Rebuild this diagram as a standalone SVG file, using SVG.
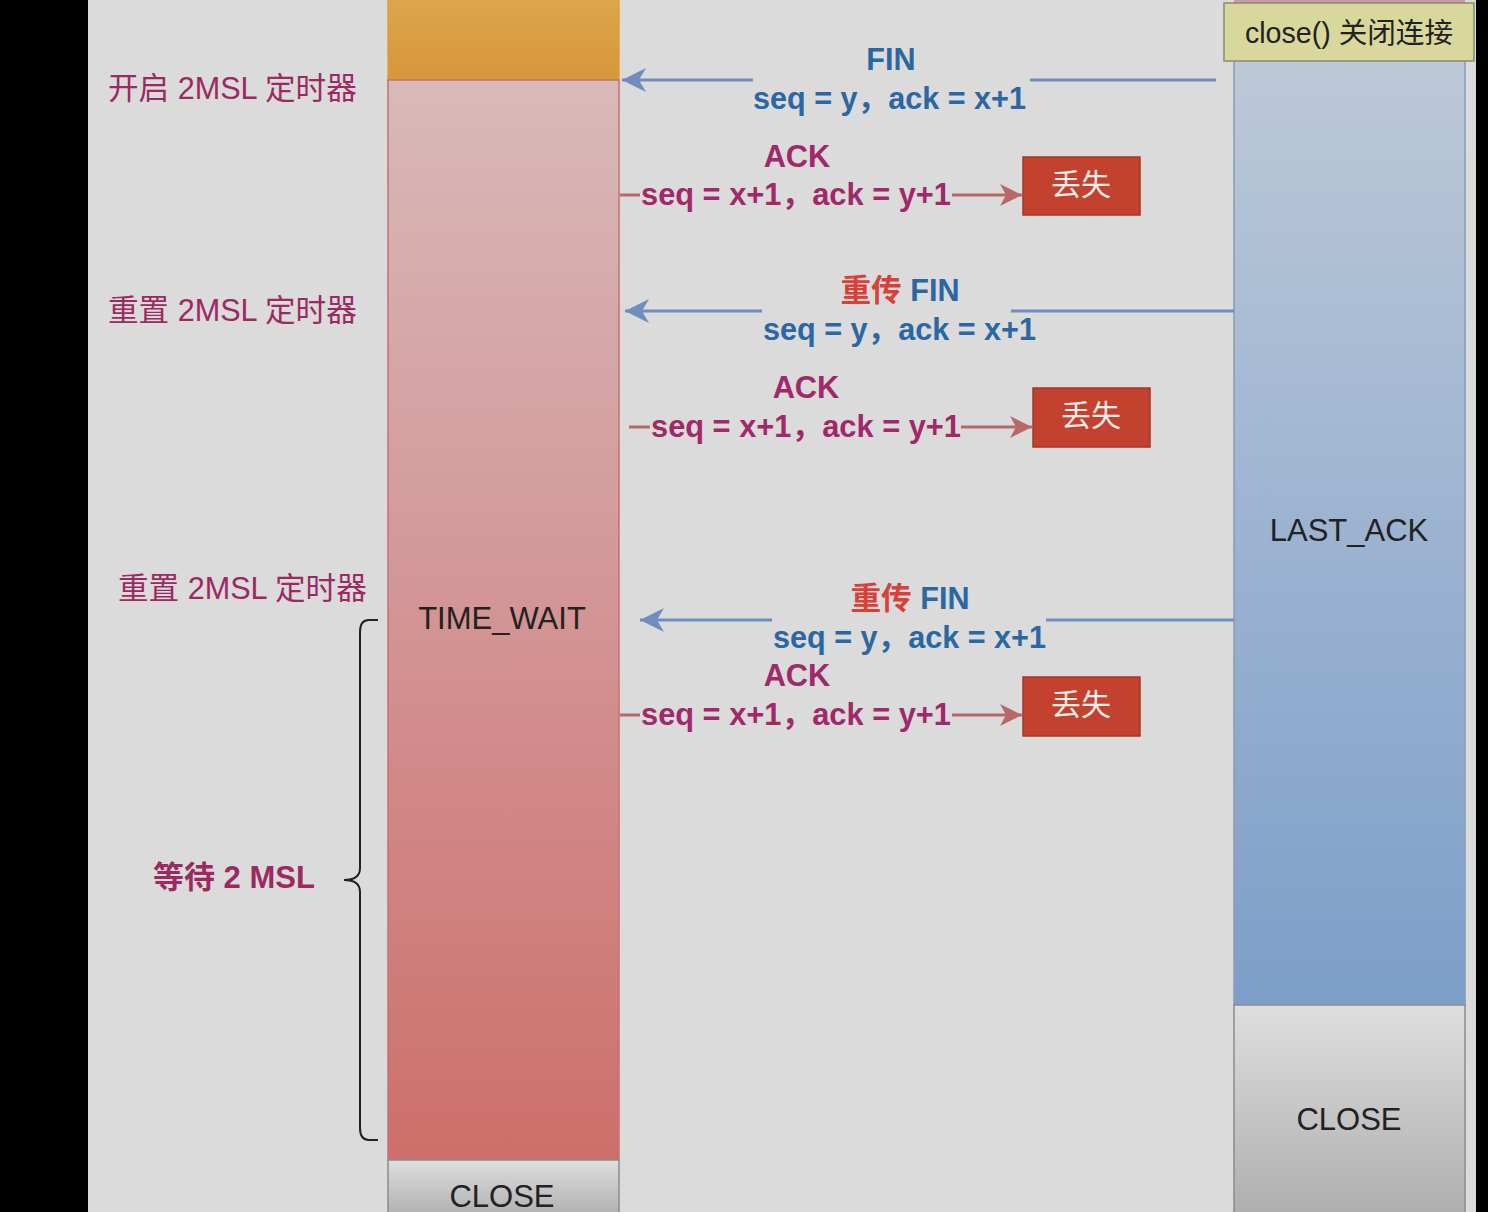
<svg xmlns="http://www.w3.org/2000/svg" width="1488" height="1212" viewBox="0 0 1488 1212">
<defs>
<linearGradient id="gOrange" x1="0" y1="0" x2="0" y2="1"><stop offset="0" stop-color="#dca64c"/><stop offset="1" stop-color="#d8963a"/></linearGradient>
<linearGradient id="gPink" x1="0" y1="0" x2="0" y2="1"><stop offset="0" stop-color="#d8b9b9"/><stop offset="0.5" stop-color="#d39494"/><stop offset="1" stop-color="#cd6f6b"/></linearGradient>
<linearGradient id="gBlue" x1="0" y1="0" x2="0" y2="1"><stop offset="0" stop-color="#bfcbd9"/><stop offset="1" stop-color="#7d9ec9"/></linearGradient>
<linearGradient id="gGray" x1="0" y1="0" x2="0" y2="1"><stop offset="0" stop-color="#dedede"/><stop offset="1" stop-color="#adadad"/></linearGradient>
<marker id="arrBlue" viewBox="0 0 24 24" markerWidth="24" markerHeight="24" refX="24" refY="12" orient="auto" markerUnits="userSpaceOnUse"><path d="M0,0 L24,12 L0,24 L7,12 Z" fill="#6f8dbf"/></marker>
<marker id="arrRed" viewBox="0 0 22 22" markerWidth="22" markerHeight="22" refX="22" refY="11" orient="auto" markerUnits="userSpaceOnUse"><path d="M0,0 L22,11 L0,22 L6,11 Z" fill="#b96868"/></marker>
<style>
.lbl{font-family:"Liberation Sans","Noto Sans CJK SC",sans-serif;font-size:30.6px;fill:#9b2a62}
.lblb{font-family:"Liberation Sans","Noto Sans CJK SC",sans-serif;font-size:31px;font-weight:bold;fill:#9b2a62}
.state{font-family:"Liberation Sans","Noto Sans CJK SC",sans-serif;font-size:31px;fill:#222;text-anchor:middle}
.blue{font-family:"Liberation Sans","Noto Sans CJK SC",sans-serif;font-size:30.6px;font-weight:bold;fill:#2a67a3}
.red{fill:#d8403a}
.ack{font-family:"Liberation Sans","Noto Sans CJK SC",sans-serif;font-size:30.8px;font-weight:bold;fill:#a0296a}
.lost{fill:#c3412f;stroke:#a8352a;stroke-width:1.5}
.losttxt{font-family:"Noto Sans CJK SC",sans-serif;font-size:30px;fill:#f6ece8;text-anchor:middle}
.lnBlue{fill:none;stroke:#6f8dbf;stroke-width:3}
.lnRed{fill:none;stroke:#b96868;stroke-width:3}
</style>
</defs>
<rect x="0" y="0" width="1488" height="1212" fill="#dbdbdb"/>
<rect x="0" y="0" width="88" height="1212" fill="#000"/>
<rect x="1476" y="0" width="12" height="1212" fill="#000"/>

<g id="client-column">
<rect x="388" y="-2" width="231" height="82" fill="url(#gOrange)" stroke="#d4a43a" stroke-width="1.5"/>
<rect x="388" y="80" width="231" height="1080" fill="url(#gPink)" stroke="#c47272" stroke-width="1.5"/>
<rect x="388" y="1160" width="231" height="60" fill="url(#gGray)" stroke="#8c8c8c" stroke-width="1.5"/>
<text class="state" x="502" y="629">TIME_WAIT</text>
<text class="state" x="502" y="1207">CLOSE</text>
</g>

<g id="server-column">
<rect x="1234" y="-2" width="231" height="6" fill="#c99aa6"/>
<rect x="1234" y="4" width="231" height="1001" fill="url(#gBlue)" stroke="#8a9bb5" stroke-width="1.5"/>
<rect x="1234" y="1005" width="231" height="215" fill="url(#gGray)" stroke="#8c8c8c" stroke-width="1.5"/>
<text class="state" x="1349" y="541">LAST_ACK</text>
<text class="state" x="1349" y="1130">CLOSE</text>
</g>

<g id="close-call">
<rect x="1224" y="3" width="250" height="58" fill="#d9d89c" stroke="#8a8a70" stroke-width="1.5"/>
<text x="1349" y="43" style="font-family:'Liberation Sans','Noto Sans CJK SC',sans-serif;font-size:28.6px;fill:#222;text-anchor:middle">close() 关闭连接</text>
</g>

<g id="labels">
<text class="lbl" x="108" y="99">开启 2MSL 定时器</text>
<text class="lbl" x="108" y="321">重置 2MSL 定时器</text>
<text class="lbl" x="118" y="599">重置 2MSL 定时器</text>
<text class="lblb" x="153" y="888">等待 2 MSL</text>
<path d="M378,620 L369,620 Q360,620 360,632 L360,868 Q360,880 344,880 Q360,880 360,892 L360,1128 Q360,1140 369,1140 L378,1140" fill="none" stroke="#222" stroke-width="2"/>
</g>

<g id="connectors">
<path class="lnBlue" d="M1216,80 L1030,80 M753,80 L622,80" marker-end="url(#arrBlue)"/>
<path class="lnRed" d="M620,195 L640,195 M952,195 L1022,195" marker-end="url(#arrRed)"/>
<path class="lnBlue" d="M1234,311 L1011,311 M762,311 L625,311" marker-end="url(#arrBlue)"/>
<path class="lnRed" d="M629,427 L650,427 M961,427 L1032,427" marker-end="url(#arrRed)"/>
<path class="lnBlue" d="M1234,620 L1046,620 M772,620 L640,620" marker-end="url(#arrBlue)"/>
<path class="lnRed" d="M620,715 L640,715 M952,715 L1022,715" marker-end="url(#arrRed)"/>
</g>

<g id="msg-fin1">
<text class="blue" x="891" y="70" text-anchor="middle">FIN</text>
<text class="blue" x="753" y="109">seq = y，ack = x+1</text>
</g>
<g id="msg-ack1">
<text class="ack" x="797" y="167" text-anchor="middle">ACK</text>
<text class="ack" x="641" y="205">seq = x+1，ack = y+1</text>
</g>
<g id="lost1">
<rect class="lost" x="1023" y="157" width="117" height="58"/>
<text class="losttxt" x="1081" y="195">丢失</text>
</g>

<g id="msg-fin2">
<text class="blue" x="900" y="301" text-anchor="middle"><tspan class="red">重传</tspan> FIN</text>
<text class="blue" x="763" y="340">seq = y，ack = x+1</text>
</g>
<g id="msg-ack2">
<text class="ack" x="806" y="398" text-anchor="middle">ACK</text>
<text class="ack" x="651" y="437">seq = x+1，ack = y+1</text>
</g>
<g id="lost2">
<rect class="lost" x="1033" y="388" width="117" height="59"/>
<text class="losttxt" x="1091" y="426">丢失</text>
</g>

<g id="msg-fin3">
<text class="blue" x="910" y="609" text-anchor="middle"><tspan class="red">重传</tspan> FIN</text>
<text class="blue" x="773" y="648">seq = y，ack = x+1</text>
</g>
<g id="msg-ack3">
<text class="ack" x="797" y="686" text-anchor="middle">ACK</text>
<text class="ack" x="641" y="725">seq = x+1，ack = y+1</text>
</g>
<g id="lost3">
<rect class="lost" x="1023" y="677" width="117" height="59"/>
<text class="losttxt" x="1081" y="715">丢失</text>
</g>
</svg>
